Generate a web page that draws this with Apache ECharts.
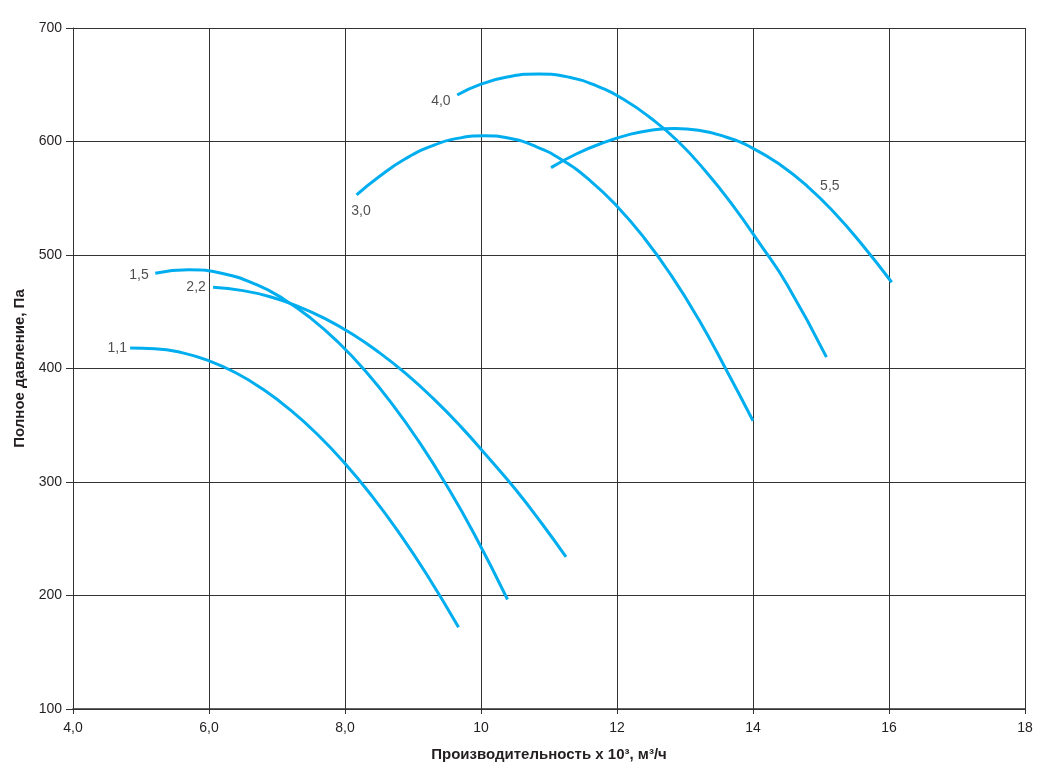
<!DOCTYPE html>
<html>
<head>
<meta charset="utf-8">
<script src="https://cdn.jsdelivr.net/npm/echarts@6/dist/echarts.min.js"></script>
<style>
  html, body { margin: 0; padding: 0; background: #fff; }
  #chart { width: 1050px; height: 777px; }
</style>
</head>
<body>
<div id="chart"></div>
<script>
// кривые вентилятора, [производительность x10^3, давление Па]
const curve11 = [[4.84, 418], [5.2, 417.5], [5.6, 414], [6.0, 406.7], [6.4, 396], [6.8, 381.4], [7.2, 363.3], [7.6, 341.6], [8.0, 316.3], [8.4, 287.4], [8.8, 254.8], [9.2, 218.7], [9.67, 172]]
const curve15 = [[5.21, 484], [5.7, 487], [6.2, 483.7], [6.7, 473.8], [7.1, 461.1], [7.5, 444.2], [7.9, 423.1], [8.3, 397.8], [8.7, 368.2], [9.1, 334.4], [9.5, 296.4], [9.9, 254.2], [10.39, 196.5]]
const curve22 = [[6.06, 471.5], [6.5, 468.6], [6.9, 463.2], [7.3, 455], [7.7, 444.2], [8.1, 430.6], [8.5, 414.2], [8.9, 395.2], [9.3, 373.4], [9.7, 349], [10.1, 322], [10.5, 294], [10.9, 263], [11.25, 234]]
const curve30 = [[8.17, 553], [8.5, 569], [8.9, 585.2], [9.3, 596.6], [9.7, 603.2], [10.05, 605], [10.4, 603], [10.8, 595.8], [11.2, 583.4], [11.6, 565.8], [12.0, 543], [12.4, 515], [12.8, 481.8], [13.2, 443.3], [13.6, 399.6], [14.0, 354]]
const curve40 = [[9.65, 641], [10.0, 650.5], [10.4, 657], [10.85, 659.5], [11.3, 656.6], [11.7, 649], [12.1, 637], [12.5, 620.5], [12.9, 600], [13.3, 574], [13.7, 544], [14.1, 510], [14.5, 474], [15.08, 410]]
const curve55 = [[11.03, 577], [11.4, 589], [11.8, 599], [12.2, 606.5], [12.5, 610], [12.85, 611.5], [13.2, 610], [13.6, 604], [14.0, 594], [14.4, 579.5], [14.8, 560.5], [15.2, 537], [15.6, 509.5], [16.04, 476]]

// подписи мощности двигателя, кВт
const powerLabels = [['1,1', 4.65, 418], ['1,5', 4.97, 482.4], ['2,2', 5.81, 471.8], ['3,0', 8.235, 538.8], ['4,0', 9.41, 635.7], ['5,5', 15.13, 560.8]]

const xTicks = { 4: '4,0', 6: '6,0', 8: '8,0' }

const lineColor = '#00aeef'
const gridColor = '#333'
const textColor = '#231f20'

function curveSeries (data) {
  return {
    type: 'line',
    data: data,
    smooth: 0.5,
    showSymbol: false,
    symbol: 'none',
    lineStyle: { color: lineColor, width: 3 },
    z: 3,
    silent: true
  }
}

const chart = echarts.init(document.getElementById('chart'))
chart.setOption({
  animation: false,
  grid: { left: 73, right: 25, top: 28, bottom: 68 },
  xAxis: {
    type: 'value',
    min: 4,
    max: 18,
    interval: 2,
    name: 'Производительность x 10³, м³/ч',
    nameLocation: 'middle',
    nameGap: 38,
    nameTextStyle: { fontFamily: 'Liberation Sans', fontWeight: 'bold', fontSize: 15, color: textColor },
    axisLine: { lineStyle: { color: gridColor, width: 1.5 } },
    axisTick: { show: true, length: 5, lineStyle: { color: gridColor } },
    axisLabel: {
      fontFamily: 'Liberation Sans',
      fontSize: 14,
      color: textColor,
      margin: 12,
      formatter: v => xTicks[v] || String(v)
    },
    splitLine: { lineStyle: { color: gridColor, width: 1 } }
  },
  yAxis: {
    type: 'value',
    min: 100,
    max: 700,
    interval: 100,
    name: 'Полное давление, Па',
    nameLocation: 'middle',
    nameGap: 46,
    nameTextStyle: { fontFamily: 'Liberation Sans', fontWeight: 'bold', fontSize: 15, color: textColor },
    axisLine: { show: true, lineStyle: { color: gridColor, width: 1 } },
    axisTick: { show: true, length: 7, lineStyle: { color: gridColor } },
    axisLabel: { fontFamily: 'Liberation Sans', fontSize: 14, color: textColor, margin: 11 },
    splitLine: { lineStyle: { color: gridColor, width: 1 } }
  },
  series: [
    curveSeries(curve11),
    curveSeries(curve15),
    curveSeries(curve22),
    curveSeries(curve30),
    curveSeries(curve40),
    curveSeries(curve55),
    {
      type: 'scatter',
      data: powerLabels.map(p => ({ value: [p[1], p[2]], name: p[0] })),
      symbolSize: 1,
      itemStyle: { color: 'rgba(0,0,0,0)' },
      silent: true,
      label: {
        show: true,
        position: 'inside',
        formatter: p => p.name,
        fontFamily: 'Liberation Sans',
        fontSize: 14,
        color: textColor
      }
    }
  ]
})
</script>
</body>
</html>
